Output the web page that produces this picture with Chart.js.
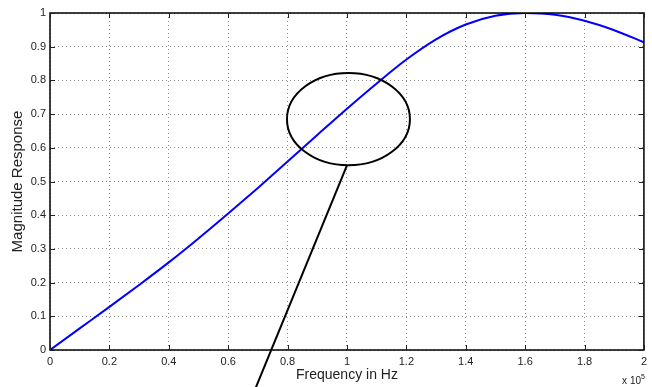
<!DOCTYPE html>
<html><head><meta charset="utf-8">
<script src="https://cdn.jsdelivr.net/npm/chart.js@4/dist/chart.umd.min.js"></script>
<style>html,body{margin:0;padding:0;background:#fff;}canvas{display:block;}</style>
</head><body>
<canvas id="c" width="652" height="387"></canvas>
<script>
// Frequency (Hz) and magnitude readings
const freqHz = [0,10000,20000,30000,40000,50000,60000,70000,80000,90000,100000,110000,120000,130000,140000,150000,160000,170000,180000,190000,200000];
const magnitude = [0,0.064,0.128,0.193,0.260,0.331,0.405,0.481,0.559,0.638,0.716,0.791,0.862,0.922,0.966,0.992,1.0,0.995,0.977,0.949,0.913];
const xTickLabels = ['0','0.2','0.4','0.6','0.8','1','1.2','1.4','1.6','1.8','2'];
const yTickLabels = ['0','0.1','0.2','0.3','0.4','0.5','0.6','0.7','0.8','0.9','1'];
// annotation: ellipse (centre, radii in data units) and pointer line end points
const ellipseCenter = [100500, 0.685];
const ellipseRadii = [20700, 0.137];
const pointerX = [100000, 69000];
const pointerY = [0.548, -0.118];

const FONT = "'Liberation Sans', Arial, Helvetica, sans-serif";

const frame = {
  id: 'frame',
  afterDatasetsDraw(chart) {
    const {ctx, chartArea: a, scales: {x, y}} = chart;
    ctx.save();
    // ellipse
    const cx = x.getPixelForValue(ellipseCenter[0]);
    const cy = y.getPixelForValue(ellipseCenter[1]);
    const rx = Math.abs(x.getPixelForValue(ellipseCenter[0] + ellipseRadii[0]) - cx);
    const ry = Math.abs(y.getPixelForValue(ellipseCenter[1] + ellipseRadii[1]) - cy);
    ctx.beginPath();
    ctx.ellipse(cx, cy, rx, ry, 0, 0, Math.PI * 2);
    ctx.strokeStyle = '#000';
    ctx.lineWidth = 2;
    ctx.stroke();
    // box
    ctx.lineWidth = 1.5;
    ctx.strokeStyle = '#000';
    ctx.strokeRect(a.left, a.top, a.right - a.left, a.bottom - a.top);
    // inner ticks
    ctx.lineWidth = 1;
    ctx.strokeStyle = '#222';
    const tl = 5;
    x.ticks.forEach(t => {
      const px = Math.round(x.getPixelForValue(t.value)) + 0.5;
      ctx.beginPath();
      ctx.moveTo(px, a.bottom); ctx.lineTo(px, a.bottom - tl);
      ctx.moveTo(px, a.top); ctx.lineTo(px, a.top + tl);
      ctx.stroke();
    });
    y.ticks.forEach(t => {
      const py = Math.round(y.getPixelForValue(t.value)) + 0.5;
      ctx.beginPath();
      ctx.moveTo(a.left, py); ctx.lineTo(a.left + tl, py);
      ctx.moveTo(a.right, py); ctx.lineTo(a.right - tl, py);
      ctx.stroke();
    });
    // exponent label
    ctx.fillStyle = '#222';
    ctx.textBaseline = 'alphabetic';
    ctx.textAlign = 'right';
    ctx.font = '10px ' + FONT;
    ctx.fillText('x 10', 641, 384);
    ctx.textAlign = 'left';
    ctx.font = '7px ' + FONT;
    ctx.fillText('5', 641, 379);
    ctx.restore();
  }
};

new Chart(document.getElementById('c'), {
  type: 'line',
  data: {
    datasets: [
      {
        data: freqHz.map((f, i) => ({x: f, y: magnitude[i]})),
        borderColor: '#0000ff',
        borderWidth: 2,
        pointRadius: 0,
        cubicInterpolationMode: 'monotone',
        fill: false
      },
      {
        data: pointerX.map((f, i) => ({x: f, y: pointerY[i]})),
        borderColor: '#000',
        borderWidth: 2,
        pointRadius: 0,
        clip: false,
        fill: false
      }
    ]
  },
  options: {
    responsive: false,
    animation: false,
    events: [],
    layout: {padding: {top: 13, right: 7, left: 0, bottom: 0}},
    plugins: {legend: {display: false}, tooltip: {enabled: false}},
    scales: {
      x: {
        type: 'linear', min: 0, max: 200000,
        border: {display: false, dash: [1, 3]},
        grid: {color: '#8a8a8a', lineWidth: 1, drawTicks: false},
        ticks: {stepSize: 20000, padding: 5, color: '#222', font: {family: FONT, size: 11},
                maxRotation: 0, autoSkip: false, callback: (v, i) => xTickLabels[i]},
        title: {display: true, text: 'Frequency in Hz', color: '#222', font: {family: FONT, size: 14},
                padding: {top: 0, bottom: 3}},
        afterFit: s => { s.height = 37; }
      },
      y: {
        type: 'linear', min: 0, max: 1,
        border: {display: false, dash: [1, 3]},
        grid: {color: '#8a8a8a', lineWidth: 1, drawTicks: false},
        ticks: {stepSize: 0.1, padding: 4, color: '#222', font: {family: FONT, size: 11},
                autoSkip: false, callback: (v, i) => yTickLabels[i]},
        title: {display: true, text: 'Magnitude Response', color: '#222', font: {family: FONT, size: 15},
                padding: {top: 9, bottom: 0}},
        afterFit: s => { s.width = 50; }
      }
    }
  },
  plugins: [frame]
});
</script>
</body></html>
